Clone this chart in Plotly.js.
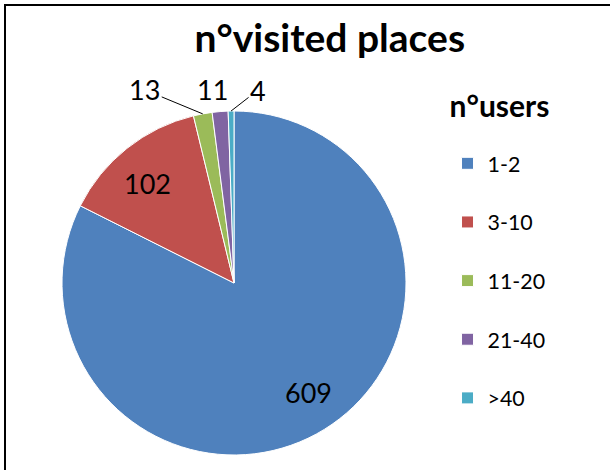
<!DOCTYPE html>
<html>
<head>
<meta charset="utf-8">
<script src="https://cdn.plot.ly/plotly-3.0.1.min.js"></script>
<style>
html,body{margin:0;padding:0;background:#fff;}
#wrap{position:absolute;left:4px;top:4px;width:606px;height:466px;border-left:2px solid #000;border-top:2px solid #000;box-sizing:border-box;}
#chart{width:604px;height:464px;}
</style>
</head>
<body>
<div id="wrap"><div id="chart"></div></div>
<script>
// ---- data ----
const categories = ['1-2', '3-10', '11-20', '21-40', '>40'];
const values = [609, 102, 13, 11, 4];
const colors = ['#4F81BD', '#C0504D', '#9BBB59', '#8064A2', '#4BACC6'];

// ---- label styling per slice (inside / outside, leader line, offset in px) ----
const labelInside = [true, true, false, false, false];
const labelLeader = [false, false, true, false, true];
const labelOffsetX = [0, 0, -58, -8, 27];
const labelOffsetY = [0, 0, -24, -22, -21];

const FONT = 'Lato, "Open Sans", sans-serif';
const W = 604, H = 464;
const CX = 228, CY = 277, R = 172;   // pie geometry in px (style)
const INSIDE_K = 0.77, INSIDE_ROT = -2.5 * Math.PI / 180;

const domX = [(CX - R) / W, (CX + R) / W];
const domY = [(H - CY - R) / H, (H - CY + R) / H];

const trace = {
  type: 'pie',
  labels: categories.map(c => c + '<br> '),
  values: values,
  sort: false,
  direction: 'clockwise',
  rotation: 0,
  marker: {colors: colors, line: {color: '#ffffff', width: 1}},
  textinfo: 'none',
  domain: {x: domX, y: domY},
  hoverinfo: 'label+value'
};

// data labels positioned from the slice angles
const total = values.reduce((a, b) => a + b, 0);
let cum = 0;
const annotations = values.map((v, i) => {
  let mid = (cum + v / 2) / total * 2 * Math.PI;
  cum += v;
  const k = labelInside[i] ? INSIDE_K : 1.0;
  if (labelInside[i]) mid += INSIDE_ROT;
  const px = CX + k * R * Math.sin(mid);
  const py = CY - k * R * Math.cos(mid);
  const a = {
    xref: 'paper', yref: 'paper',
    x: px / W, y: 1 - py / H,
    text: String(v),
    font: {family: FONT, size: 27, color: '#000'},
    xanchor: 'center', yanchor: 'middle'
  };
  if (labelInside[i]) {
    a.showarrow = false;
  } else if (labelLeader[i]) {
    a.showarrow = true; a.arrowhead = 0; a.arrowwidth = 1; a.arrowcolor = '#000';
    a.ax = labelOffsetX[i]; a.ay = labelOffsetY[i]; a.standoff = 0;
  } else {
    a.showarrow = false; a.xshift = labelOffsetX[i]; a.yshift = -labelOffsetY[i];
  }
  return a;
});

const layout = {
  width: W, height: H,
  margin: {l: 0, r: 0, t: 0, b: 0},
  paper_bgcolor: '#fff',
  showlegend: true,
  title: {
    text: '<b>n°visited places</b>',
    font: {family: FONT, size: 39, color: '#000'},
    x: 0.536, xref: 'container', xanchor: 'center',
    y: 0.93, yref: 'container', yanchor: 'middle'
  },
  annotations: annotations,
  legend: {
    title: {text: "<b><span style='font-size:30px'>n°users</span></b><br> ", font: {family: FONT, size: 20, color: '#000'}},
    font: {family: FONT, size: 21.4, color: '#000'},
    x: 0.731, xanchor: 'left', y: 0.817, yanchor: 'top',
    valign: 'top',
    bgcolor: 'rgba(0,0,0,0)'
  }
};

Plotly.newPlot('chart', [trace], layout, {displayModeBar: false, staticPlot: true});
</script>
</body>
</html>
